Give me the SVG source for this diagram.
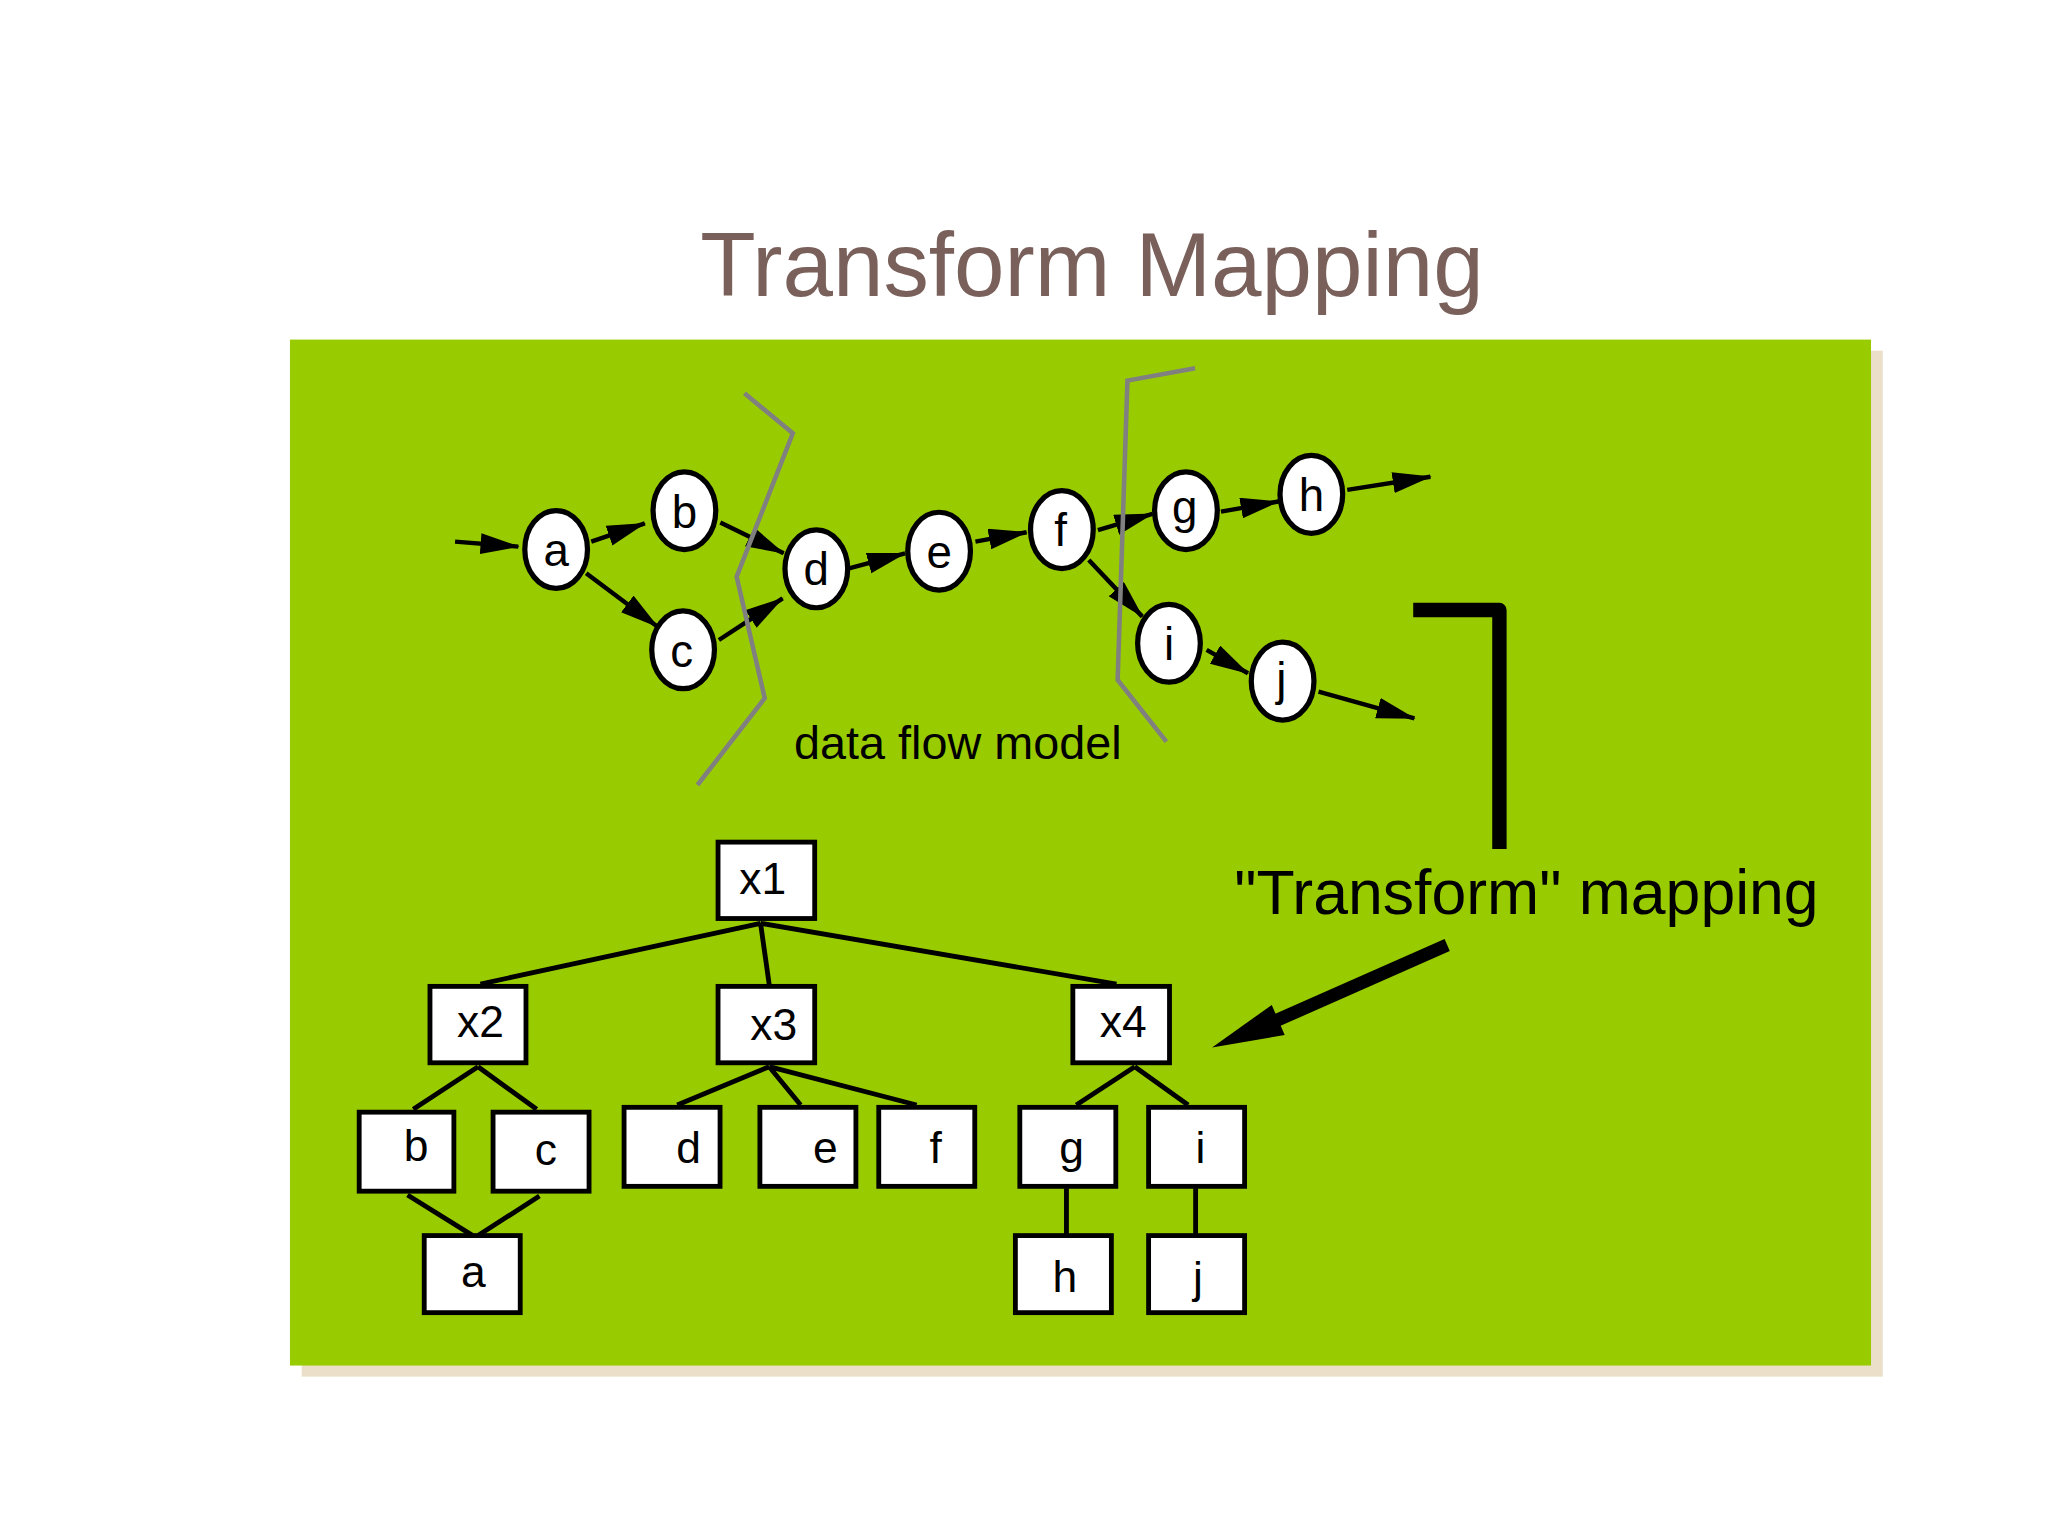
<svg xmlns="http://www.w3.org/2000/svg" width="2048" height="1536" viewBox="0 0 2048 1536">
<style>
.nd{fill:#fff;stroke:#000;stroke-width:3.7}
.ne{fill:#fff;stroke:#000;stroke-width:4}
.lb{font-family:"Liberation Sans",Arial,sans-serif;font-size:34px;fill:#000;text-anchor:middle}
.le{font-family:"Liberation Sans",Arial,sans-serif;font-size:35px;fill:#000;text-anchor:middle}
.fl{stroke:#000;stroke-width:3.4;fill:none}
.tr{stroke:#000;stroke-width:3.7;fill:none}
.cut{stroke:#808080;stroke-width:3.5;fill:none}
</style>
<defs>
<marker id="ah" markerUnits="userSpaceOnUse" markerWidth="32" markerHeight="18" refX="29" refY="8" orient="auto">
<path d="M0,0 L30,8 L0,16 z" fill="#000"/>
</marker>
</defs>
<rect width="2048" height="1536" fill="#fff"/>
<g transform="scale(1.30612)">
<text x="836" y="227" font-family="'Liberation Sans',Arial,sans-serif" font-size="69.5" fill="#7a605a" text-anchor="middle">Transform Mapping</text>
<rect x="231" y="268.5" width="1210.5" height="785.5" fill="#ebdfc9"/>
<rect x="222" y="260" width="1210.5" height="785.5" fill="#99cc00"/>

<g id="tree-connectors">
<path class="tr" d="M582.3,706.9 L367.8,753.4 M582.3,706.9 L589.7,759.2 M582.3,706.9 L854.8,753.4"/>
<path class="tr" d="M366,816.7 L316.4,849.3 M366,816.7 L410.9,849.3"/>
<path class="tr" d="M588.9,816.7 L518.5,846 M588.9,816.7 L613,846 M588.9,816.7 L701.8,846"/>
<path class="tr" d="M868.8,816.7 L824,846 M868.8,816.7 L909.7,846"/>
<path class="tr" d="M312,914.9 L362,946 M413,915.7 L366,946"/>
<path class="tr" d="M816.5,909.8 V946 M915.4,909.8 V946"/>
</g>

<g id="t-x1"><rect class="nd" x="549.75" y="644.75" width="74" height="58.5"/><text class="lb" x="584" y="684.5">x1</text></g>
<g id="t-x2"><rect class="nd" x="329.2" y="755.2" width="73.5" height="58.5"/><text class="lb" x="367.8" y="794.2">x2</text></g>
<g id="t-x3"><rect class="nd" x="549.75" y="755.2" width="74" height="58.5"/><text class="lb" x="592.4" y="796.2">x3</text></g>
<g id="t-x4"><rect class="nd" x="821.4" y="755.2" width="74" height="58.5"/><text class="lb" x="860" y="794.2">x4</text></g>
<g id="t-b"><rect class="nd" x="275" y="851.5" width="72.5" height="60.5"/><text class="lb" x="318.6" y="888.6">b</text></g>
<g id="t-c"><rect class="nd" x="377.5" y="851.5" width="73.5" height="60.5"/><text class="lb" x="418" y="892">c</text></g>
<g id="t-d"><rect class="nd" x="477.8" y="847.8" width="73.5" height="60.5"/><text class="lb" x="527.3" y="890.2">d</text></g>
<g id="t-e"><rect class="nd" x="581.8" y="847.8" width="73.5" height="60.5"/><text class="lb" x="632" y="890.7">e</text></g>
<g id="t-f"><rect class="nd" x="672.8" y="847.8" width="73.5" height="60.5"/><text class="lb" x="716.3" y="890.2">f</text></g>
<g id="t-g"><rect class="nd" x="780.8" y="847.8" width="73.5" height="60.5"/><text class="lb" x="820.5" y="890.2">g</text></g>
<g id="t-i"><rect class="nd" x="879.4" y="847.8" width="73.5" height="60.5"/><text class="lb" x="919" y="890.7">i</text></g>
<g id="t-a"><rect class="nd" x="324.8" y="946" width="73.5" height="59"/><text class="lb" x="362.5" y="985.1">a</text></g>
<g id="t-h"><rect class="nd" x="777.4" y="946" width="73.5" height="59"/><text class="lb" x="815.2" y="988.9">h</text></g>
<g id="t-j"><rect class="nd" x="879.4" y="946" width="73.5" height="59"/><text class="lb" x="917.2" y="990">j</text></g>

<g id="flow-connectors">
<line class="fl" x1="348.4" y1="414.7" x2="396.9" y2="418.5" marker-end="url(#ah)"/>
<line class="fl" x1="452.7" y1="414.7" x2="493.7" y2="400.7" marker-end="url(#ah)"/>
<line class="fl" x1="448.8" y1="438.9" x2="503.5" y2="479.8" marker-end="url(#ah)"/>
<line class="fl" x1="551.5" y1="400.1" x2="600" y2="423.6" marker-end="url(#ah)"/>
<line class="fl" x1="550.4" y1="490" x2="599.2" y2="458.1" marker-end="url(#ah)"/>
<line class="fl" x1="650" y1="435.1" x2="693" y2="423.6" marker-end="url(#ah)"/>
<line class="fl" x1="746.8" y1="414.7" x2="786" y2="407.5" marker-end="url(#ah)"/>
<line class="fl" x1="840.6" y1="405.8" x2="882.4" y2="393.5" marker-end="url(#ah)"/>
<line class="fl" x1="833.6" y1="428.7" x2="874.6" y2="472.1" marker-end="url(#ah)"/>
<line class="fl" x1="934.8" y1="391.7" x2="978.8" y2="384" marker-end="url(#ah)"/>
<line class="fl" x1="1031.5" y1="375.1" x2="1095.2" y2="365" marker-end="url(#ah)"/>
<line class="fl" x1="923.8" y1="497.6" x2="955.5" y2="515.5" marker-end="url(#ah)"/>
<line class="fl" x1="1009.5" y1="529.5" x2="1082.9" y2="550" marker-end="url(#ah)"/>
</g>

<g id="n-a"><ellipse class="ne" cx="425.8" cy="420.7" rx="24" ry="29.8"/><text class="le" x="425.8" y="433.5">a</text></g>
<g id="n-b"><ellipse class="ne" cx="524" cy="391" rx="24" ry="29.8"/><text class="le" x="524" y="404">b</text></g>
<g id="n-c"><ellipse class="ne" cx="523" cy="497.5" rx="24" ry="29.8"/><text class="le" x="522" y="510.5">c</text></g>
<g id="n-d"><ellipse class="ne" cx="625" cy="435.5" rx="24" ry="29.8"/><text class="le" x="625" y="448">d</text></g>
<g id="n-e"><ellipse class="ne" cx="719" cy="422" rx="24" ry="29.8"/><text class="le" x="719" y="435">e</text></g>
<g id="n-f"><ellipse class="ne" cx="813" cy="405.5" rx="24" ry="29.8"/><text class="le" x="812" y="418">f</text></g>
<g id="n-g"><ellipse class="ne" cx="908" cy="391" rx="24" ry="29.8"/><text class="le" x="907" y="400.5">g</text></g>
<g id="n-h"><ellipse class="ne" cx="1004" cy="378.5" rx="24" ry="29.8"/><text class="le" x="1004" y="391">h</text></g>
<g id="n-i"><ellipse class="ne" cx="895" cy="492.5" rx="24" ry="29.8"/><text class="le" x="895" y="505">i</text></g>
<g id="n-j"><ellipse class="ne" cx="982" cy="521.5" rx="24" ry="29.8"/><text class="le" x="981" y="532">j</text></g>

<g id="cut-lines">
<polyline class="cut" points="570,301.1 607,331.7 564,441.5 585.5,534.6 534,601"/>
<polyline class="cut" points="915,282 863.2,291.4 855.7,520.6 893,567.8"/>
</g>

<text x="608" y="581.4" font-family="'Liberation Sans',Arial,sans-serif" font-size="35.8" fill="#000">data flow model</text>

<path d="M1082,467 H1148 V650" stroke="#000" stroke-width="11" fill="none" stroke-linejoin="round"/>
<text x="945" y="700" font-family="'Liberation Sans',Arial,sans-serif" font-size="47.9" fill="#000">"Transform" mapping</text>

<g id="big-arrow">
<line x1="1108" y1="723.5" x2="978" y2="781" stroke="#000" stroke-width="10"/>
<polygon points="928,802 973.7,769.4 983.6,792.4" fill="#000"/>
</g>
</g>
</svg>
